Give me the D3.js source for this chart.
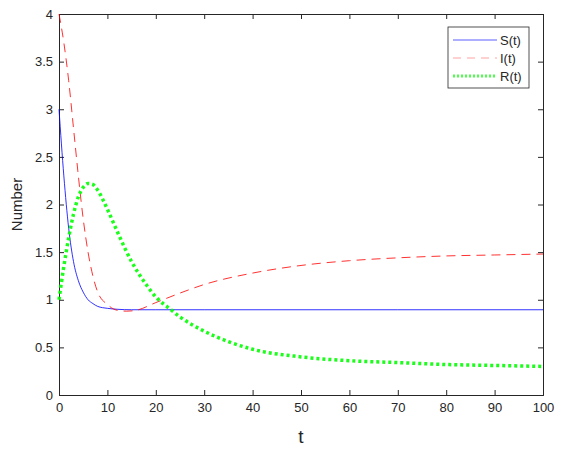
<!DOCTYPE html><html><head><script src="https://cdn.jsdelivr.net/npm/d3@7"></script>
<style>body{margin:0;background:#fff}text{font-family:"Liberation Sans",Arial,sans-serif}</style></head><body>
<script>
const tS=[0,1,2,3,4,5,6,7,8,10,12,15,20,30,50,70,100];
const S=[3,2.3,1.75,1.4,1.2,1.08,1.0,0.96,0.93,0.91,0.9,0.895,0.895,0.895,0.895,0.895,0.895];
const tI=[0,1,2,3,4,5,6,7,8,10,12,14,16,20,25,30,40,50,60,70,80,90,100];
const I=[4,3.7,3.3,2.8,2.3,1.85,1.5,1.25,1.08,0.95,0.89,0.88,0.89,0.97,1.07,1.16,1.28,1.36,1.41,1.44,1.46,1.47,1.48];
const tR=[0,1,2,3,4,5,6,7,8,10,12,15,18,20,23,25,30,35,40,50,60,70,80,90,100];
const R=[1.0,1.35,1.65,1.9,2.08,2.18,2.22,2.21,2.15,1.95,1.72,1.4,1.16,1.03,0.9,0.82,0.67,0.56,0.48,0.4,0.36,0.34,0.32,0.31,0.3];
const xTicks=d3.range(0,101,10), yTicks=d3.range(0,4.01,0.5);
const W=566,H=456,L=59,Rt=543,T=14,B=395;
const svg=d3.select("body").append("svg").attr("width",W).attr("height",H);
const x=d3.scaleLinear().domain([0,100]).range([L,Rt]);
const y=d3.scaleLinear().domain([0,4]).range([B,T]);
const g=svg.append("g");
g.append("g").attr("transform",`translate(0,${B})`).call(d3.axisBottom(x).tickValues(xTicks).tickSize(-5).tickPadding(8).tickFormat(d3.format("d")));
g.append("g").attr("transform",`translate(0,${T})`).call(d3.axisTop(x).tickValues(xTicks).tickSize(-5).tickFormat(""));
g.append("g").attr("transform",`translate(${L},0)`).call(d3.axisLeft(y).tickValues(yTicks).tickSize(-5).tickPadding(6).tickFormat(d=>d3.format("")(d)));
g.append("g").attr("transform",`translate(${Rt},0)`).call(d3.axisRight(y).tickValues(yTicks).tickSize(-5).tickFormat(""));
g.selectAll(".domain").attr("stroke","#262626");g.selectAll(".tick line").attr("stroke","#262626");
g.selectAll(".tick text").attr("font-size",13).attr("fill","#262626").attr("font-family","Liberation Sans");
const line=d3.line().x(d=>x(d[0])).y(d=>y(d[1])).curve(d3.curveMonotoneX);
const series=[[tS,S,"#0000ff",0.9,null],[tI,I,"#ff0000",0.9,"9,6"],[tR,R,"#00ff00",3.5,"3,3"]];
series.forEach(([t,v,c,w,da])=>svg.append("path").datum(t.map((d,i)=>[d,v[i]])).attr("d",line).attr("fill","none").attr("stroke",c).attr("stroke-width",w).attr("stroke-dasharray",da).attr("opacity",0.9));
svg.append("text").attr("x",(L+Rt)/2).attr("y",443).attr("text-anchor","middle").attr("font-size",19).attr("fill","#262626").text("t");
svg.append("text").attr("transform",`translate(22,${(T+B)/2}) rotate(-90)`).attr("text-anchor","middle").attr("font-size",15).attr("fill","#262626").text("Number");
const lg=svg.append("g");
lg.append("rect").attr("x",448).attr("y",27).attr("width",81).attr("height",61).attr("fill","#fff").attr("stroke","#262626").attr("stroke-width",0.8);
["S(t)","I(t)","R(t)"].forEach((n,i)=>{const yy=40+i*18,s=series[i];
lg.append("line").attr("x1",453).attr("x2",497).attr("y1",yy).attr("y2",yy).attr("stroke",s[2]).attr("stroke-width",i==2?3:0.9).attr("stroke-dasharray",i==1?"8,6":i==2?"2,2":null).attr("opacity",i==1?0.4:0.7);
lg.append("text").attr("x",500).attr("y",yy+5).attr("font-size",13).attr("fill","#262626").text(n);});
</script></body></html>
